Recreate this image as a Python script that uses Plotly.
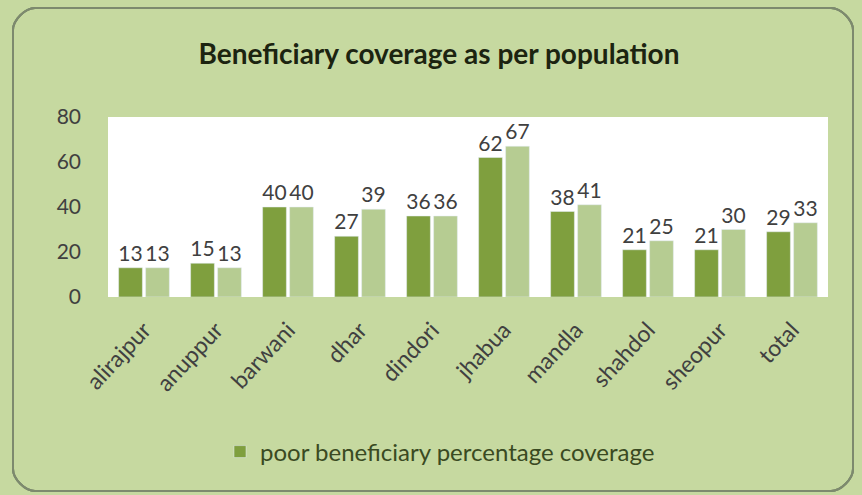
import plotly.graph_objects as go

districts = ["alirajpur", "anuppur", "barwani", "dhar", "dindori",
             "jhabua", "mandla", "shahdol", "sheopur", "total"]
poor_coverage = [13, 15, 40, 27, 36, 62, 38, 21, 21, 29]
overall_coverage = [13, 13, 40, 39, 36, 67, 41, 25, 30, 33]
y_ticks = [0, 20, 40, 60, 80]

W, H = 862, 495
L, R, T, B = 108, 34, 117, 198
PW, PH = W - L - R, H - T - B

BG = "#c6d9a0"
DARK = "#7f9f3e"
LIGHT = "#b6cc92"
FONT = "Lato"


def px(x):
    return (x - L) / PW


def py(y):
    return (H - B - y) / PH


def rounded_rect(x0, y0, x1, y1, r):
    k = 0.45 * r
    pts = [
        f"M {px(x0 + r)},{py(y0)}",
        f"L {px(x1 - r)},{py(y0)}",
        f"C {px(x1 - r + k)},{py(y0)} {px(x1)},{py(y0 + r - k)} {px(x1)},{py(y0 + r)}",
        f"L {px(x1)},{py(y1 - r)}",
        f"C {px(x1)},{py(y1 - r + k)} {px(x1 - r + k)},{py(y1)} {px(x1 - r)},{py(y1)}",
        f"L {px(x0 + r)},{py(y1)}",
        f"C {px(x0 + r - k)},{py(y1)} {px(x0)},{py(y1 - r + k)} {px(x0)},{py(y1 - r)}",
        f"L {px(x0)},{py(y0 + r)}",
        f"C {px(x0)},{py(y0 + r - k)} {px(x0 + r - k)},{py(y0)} {px(x0 + r)},{py(y0)}",
        "Z",
    ]
    return " ".join(pts)


label_font = dict(size=21, color="#404040", family=FONT)

fig = go.Figure()
fig.add_trace(go.Bar(
    x=districts, y=poor_coverage, name="poor beneficiary percentage coverage",
    marker_color=DARK, text=poor_coverage, textposition="outside",
    textfont=label_font, cliponaxis=False, constraintext="none",
))
fig.add_trace(go.Bar(
    x=districts, y=overall_coverage, name="beneficiary percentage coverage",
    marker_color=LIGHT, text=overall_coverage, textposition="outside",
    textfont=label_font, cliponaxis=False, constraintext="none",
    showlegend=False,
))

# horizontal gridlines at the inner ticks only (no line along the top edge)
for v in y_ticks[1:-1]:
    fig.add_hline(y=v, line=dict(color="#8c8c8c", width=1), layer="below")

fig.update_layout(
    width=W, height=H,
    margin=dict(l=L, r=R, t=T, b=B, autoexpand=False),
    paper_bgcolor=BG, plot_bgcolor="white",
    barmode="group", bargap=0.25, bargroupgap=0.12,
    font=dict(family=FONT, color="#404040"),
    title=dict(text="<b>Beneficiary coverage as per population</b>",
               xref="container", x=439 / W, xanchor="center",
               y=1 - 54 / H, yanchor="middle",
               font=dict(size=28, color="#1c2410", family=FONT)),
    xaxis=dict(tickangle=-47, tickfont=dict(size=23, color="#404040"),
               showline=False, ticks="", ticklabelstandoff=14),
    yaxis=dict(range=[0, 80], tickvals=y_ticks, showgrid=False, zeroline=False,
               tickfont=dict(size=21, color="#404040"), ticklabelstandoff=26),
    legend=dict(x=px(440), y=py(452), xanchor="center", yanchor="middle",
                orientation="h", bgcolor="rgba(0,0,0,0)", itemwidth=30,
                font=dict(size=24, color="#3a4a22", family=FONT)),
    shapes=[dict(type="path", xref="paper", yref="paper",
                 path=rounded_rect(13, 8, 853, 491, 22),
                 line=dict(color="#7d8a6e", width=2), fillcolor="rgba(0,0,0,0)",
                 layer="below")],
)

fig.write_html("out.html")
